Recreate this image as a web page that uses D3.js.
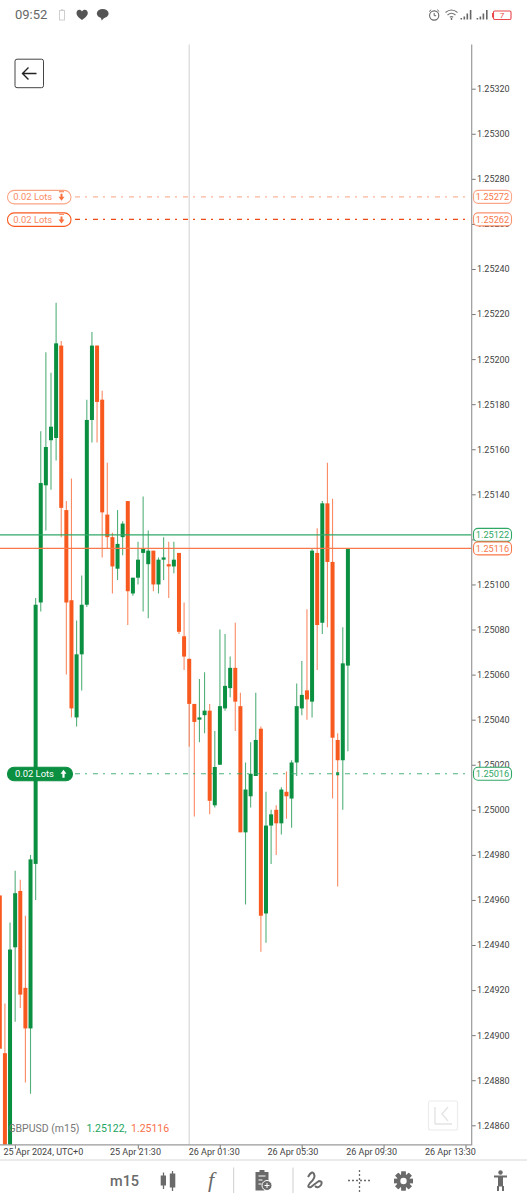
<!DOCTYPE html>
<html><head><meta charset="utf-8">
<script src="https://cdn.jsdelivr.net/npm/d3@7"></script>
<style>html,body{margin:0;padding:0;background:#fff}svg{display:block}text{font-family:Roboto,sans-serif}</style>
</head><body><svg id="c" width="527" height="1200"></svg>
<script>
const open_=[1.24962,1.24892,1.24840,1.24939,1.24964,1.24921,1.24903,1.24976,1.25092,1.25144,1.25164,1.25165,1.25206,1.25133,1.25093,1.25041,1.25069,1.25091,1.25173,1.25206,1.25182,1.25131,1.25121,1.25107,1.25121,1.25137,1.25096,1.25103,1.25114,1.25109,1.25115,1.25100,1.25111,1.25109,1.25108,1.25114,1.25077,1.25067,1.25047,1.25040,1.25042,1.25044,1.25002,1.25020,1.25045,1.25054,1.25063,1.25046,1.24990,1.25006,1.25015,1.25036,1.24954,1.24993,1.25000,1.24994,1.25008,1.25005,1.25021,1.25045,1.25053,1.25048,1.25114,1.25083,1.25136,1.25110,1.25031,1.25022,1.25064];
const close_=[1.24894,1.24836,1.24938,1.24963,1.24918,1.24903,1.24978,1.25091,1.25145,1.25161,1.25170,1.25207,1.25134,1.25092,1.25045,1.25069,1.25091,1.25173,1.25206,1.25181,1.25132,1.25121,1.25108,1.25118,1.25127,1.25097,1.25103,1.25111,1.25116,1.25115,1.25100,1.25111,1.25112,1.25108,1.25111,1.25079,1.25068,1.25047,1.25039,1.25041,1.25044,1.25004,1.25019,1.25046,1.25055,1.25063,1.25048,1.24990,1.25009,1.25016,1.25031,1.24953,1.24993,1.24998,1.24994,1.25009,1.25006,1.25021,1.25046,1.25051,1.25049,1.25115,1.25082,1.25136,1.25110,1.25032,1.25022,1.25065,1.25116];
const high_=[1.24962,1.24914,1.24950,1.24973,1.24969,1.24953,1.24980,1.25094,1.25168,1.25203,1.25194,1.25225,1.25208,1.25137,1.25147,1.25084,1.25104,1.25182,1.25212,1.25206,1.25186,1.25154,1.25123,1.25133,1.25128,1.25137,1.25103,1.25119,1.25139,1.25124,1.25115,1.25112,1.25121,1.25119,1.25119,1.25114,1.25092,1.25067,1.25047,1.25058,1.25061,1.25047,1.25035,1.25080,1.25078,1.25068,1.25083,1.25052,1.25021,1.25030,1.25052,1.25037,1.25008,1.25000,1.25002,1.25010,1.25017,1.25022,1.25056,1.25066,1.25089,1.25116,1.25125,1.25137,1.25154,1.25138,1.25034,1.25081,1.25116];
const low_=[1.24894,1.24830,1.24835,1.24906,1.24912,1.24879,1.24874,1.24960,1.25088,1.25124,1.25142,1.25155,1.25121,1.25060,1.25041,1.25037,1.25053,1.25090,1.25163,1.25163,1.25112,1.25116,1.25096,1.25102,1.25113,1.25082,1.25095,1.25100,1.25088,1.25085,1.25097,1.25096,1.25102,1.25094,1.25105,1.25078,1.25062,1.25028,1.24997,1.25030,1.25034,1.24998,1.25001,1.25020,1.25044,1.25050,1.25035,1.24990,1.24958,1.25001,1.25015,1.24937,1.24941,1.24976,1.24980,1.24989,1.24996,1.24992,1.25015,1.25042,1.25040,1.25041,1.25062,1.25078,1.25081,1.25005,1.24966,1.25000,1.25026];
const priceTicks=d3.range(0,24).map(k=>+(1.2532-k*0.0002).toFixed(5));
const timeTicks=["2024-04-25T15:30Z","2024-04-25T21:30Z","2024-04-26T01:30Z","2024-04-26T05:30Z","2024-04-26T09:30Z","2024-04-26T13:30Z"];
const timeLabels=["25 Apr 21:30","26 Apr 01:30","26 Apr 05:30","26 Apr 09:30","26 Apr 13:30"];
const dateLabel="25 Apr 2024, UTC+0";
const bid=1.25116, ask=1.25122;
const orders=[{price:1.25272,lots:"0.02 Lots",side:"sell",op:.55},{price:1.25262,lots:"0.02 Lots",side:"sell",op:1},{price:1.25016,lots:"0.02 Lots",side:"buy",op:.85}];
const symbol="GBPUSD (m15)";

const GREEN="#0b8f41",RED="#f8591f",GREENL="#2fa766",REDL="#f9784b",GREY="#6a6a6a";
const svg=d3.select("#c");
const R={l:0,r:471.7,t:44.4,b:1144.8};
const t0=Date.UTC(2024,3,25,14,45), bar=15*60000;
const x=d3.scaleTime().domain([t0,t0+68*bar]).range([-0.2,347.9]);
const y=d3.scaleLinear().domain([1.2532,1.2486]).range([88.7,1125.3]);
const tickX=d3.scaleTime().domain([new Date(timeTicks[1]),new Date(timeTicks[5])]).range([137.8,465.5]);
const labelX=d3.scaleLinear().domain([0,4]).range([135.5,450.4]);

svg.append("defs").append("clipPath").attr("id","plot").append("rect").attr("x",0).attr("y",R.t).attr("width",R.r).attr("height",R.b-R.t);

// session line
svg.append("line").attr("x1",189.2).attr("x2",189.2).attr("y1",R.t).attr("y2",R.b).attr("stroke","#d8d8d8").attr("stroke-width",1.2);

// candles
const plot=svg.append("g").attr("clip-path","url(#plot)");
const cs=open_.map((o,i)=>({t:t0+i*bar,o,c:close_[i],h:high_[i],l:low_[i]}));
const g=plot.selectAll("g").data(cs).join("g");
g.append("line").attr("x1",d=>x(d.t)).attr("x2",d=>x(d.t)).attr("y1",d=>y(d.h)).attr("y2",d=>y(d.l))
 .attr("stroke",d=>d.c>=d.o?GREEN:RED).attr("stroke-width",1.1).attr("stroke-opacity",.7);
g.append("rect").attr("x",d=>x(d.t)-2).attr("width",4)
 .attr("y",d=>y(Math.max(d.o,d.c))).attr("height",d=>Math.max(1.5,Math.abs(y(d.o)-y(d.c))))
 .attr("fill",d=>d.c>=d.o?GREEN:RED);

// marker on open position candle
plot.append("rect").attr("x",x(t0+66*bar)-1.5).attr("y",y(orders[2].price)-1.5).attr("width",3).attr("height",3).attr("fill",GREEN);

// bid / ask
[[ask,GREENL],[bid,REDL]].forEach(([p,col])=>{
  svg.append("line").attr("x1",0).attr("x2",R.r).attr("y1",y(p)).attr("y2",y(p)).attr("stroke",col).attr("stroke-width",1.1);
});

// axes
const ay=svg.append("g").attr("transform",`translate(${R.r},0)`)
 .call(d3.axisRight(y).tickValues(priceTicks).tickFormat(d3.format(".5f")).tickSize(4).tickPadding(1).tickSizeOuter(0));
ay.select(".domain").remove();
ay.selectAll("line").attr("stroke","#777");
ay.selectAll("text").attr("font-size",9).attr("fill","#444").attr("font-family","Roboto").attr("x",5.2);
const ax=svg.append("g").attr("transform",`translate(0,${R.b})`)
 .call(d3.axisBottom(tickX).tickValues(timeTicks.map(d=>new Date(d))).tickFormat("").tickSize(4).tickSizeOuter(0));
ax.select(".domain").remove();
ax.selectAll("line").attr("stroke","#777");
svg.append("path").attr("d",`M${R.r},${R.t}V${R.b}H0`).attr("fill","none").attr("stroke","#9a9a9a").attr("stroke-width",1.2);
svg.append("line").attr("x1",0).attr("x2",527).attr("y1",1160).attr("y2",1160).attr("stroke","#d6d6d6");
svg.selectAll("text.tl").data(timeLabels).join("text").attr("class","tl")
 .attr("x",(d,i)=>labelX(i)).attr("y",1155.3).attr("text-anchor","middle").attr("font-size",9).attr("fill","#444").text(d=>d);
svg.append("text").attr("x",3.4).attr("y",1155.3).attr("font-size",9).attr("fill","#444").text(dateLabel);

// orders
orders.forEach(o=>{
  const buy=o.side==="buy", col=buy?GREENL:(o.op===1?"#ee4a18":REDL), yy=y(o.price);
  const gg=svg.append("g").attr("opacity",o.op);
  gg.append("line").attr("x1",75).attr("x2",R.r-1).attr("y1",yy).attr("y2",yy).attr("stroke",col).attr("stroke-width",1.1).attr("stroke-dasharray","5 5 2 6");
  const pill=svg.append("g").attr("transform",`translate(0,${yy})`);
  pill.append("rect").attr("x",7.5).attr("y",-6.5).attr("width",buy?65:63.5).attr("height",13.5).attr("rx",6.7)
    .attr("fill",buy?GREEN:"#fff").attr("stroke",buy?GREEN:RED).attr("stroke-opacity",buy?1:o.op).attr("stroke-width",1.1);
  pill.append("text").attr("x",buy?15:13.3).attr("y",3.6).attr("font-size",9.4).attr("fill",buy?"#fff":"#fa8a63").text(o.lots);
  pill.append("path").attr("d",buy?"M63.5,-4L66.5,0H64.6V4H62.4V0H60.5Z":"M59,-5.5H64V-4.6H59ZM60.5,-3H62.5V0H64.5L61.5,4L58.5,0H60.5Z").attr("fill",buy?"#fff":RED).attr("opacity",buy?1:.85);
});

// price pills
[[1.25272,REDL,.65],[1.25262,REDL,.8],[ask,GREENL,1],[bid,REDL,1],[1.25016,GREENL,1]].forEach(([p,col,op])=>{
  const yy=y(p),pg=svg.append("g").attr("transform",`translate(0,${yy})`);
  pg.append("rect").attr("x",473.5).attr("y",-6.5).attr("width",38).attr("height",13).attr("rx",4.5).attr("fill","#fff").attr("stroke",col).attr("stroke-opacity",op).attr("stroke-width",1.1);
  pg.append("text").attr("x",492.5).attr("y",3.3).attr("text-anchor","middle").attr("font-size",9.2).attr("fill",col).text(d3.format(".5f")(p));
});

// legend
const lg=svg.append("text").attr("x",8.4).attr("y",1131.5).attr("font-size",10.5);
lg.append("tspan").attr("fill","#777").text(symbol);
lg.append("tspan").attr("x",86.4).attr("fill","#22a561").text(d3.format(".5f")(ask)+",");
lg.append("tspan").attr("x",131).attr("fill","#f8704a").text(d3.format(".5f")(bid));

// back-to-end button
const be=svg.append("g").attr("fill","none").attr("stroke","#ececec");
be.append("rect").attr("x",428.5).attr("y",1101).attr("width",29).attr("height",29).attr("rx",2).attr("stroke-width",1.2);
be.append("path").attr("d","M435,1107V1124M448,1107L442,1114L448,1121M435,1124H452").attr("stroke-width",1.4).attr("stroke","#e4e4e4");

// back button
const bk=svg.append("g");
bk.append("rect").attr("x",15).attr("y",59.2).attr("width",28.5).attr("height",28.5).attr("rx",2).attr("fill","#fff").attr("stroke","#444");
bk.append("path").attr("d","M36.5,73.5H22.5M28.5,67.5L22.5,73.5L28.5,79.5").attr("fill","none").attr("stroke","#222").attr("stroke-width",1.4);

// status bar
const s=svg.append("g");
s.append("text").attr("x",15).attr("y",19).attr("font-size",13).attr("fill","#666").text("09:52");
s.append("rect").attr("x",59.5).attr("y",10.5).attr("width",5).attr("height",9.5).attr("fill","none").attr("stroke","#cfcfcf");
s.append("rect").attr("x",60.8).attr("y",9.3).attr("width",2.5).attr("height",1.2).attr("fill","#cfcfcf");
s.append("path").attr("d","M82,20C77,16.5 76.5,14.5 76.5,13C76.5,9.5 80.5,8.5 82,11.5C83.5,8.5 87.8,9.5 87.8,13C87.8,14.5 87,16.5 82,20Z").attr("fill","#555");
s.append("ellipse").attr("cx",102.7).attr("cy",13.5).attr("rx",5.9).attr("ry",4.6).attr("fill","#555");
s.append("path").attr("d","M100.7,17L101.7,20.5L105,17Z").attr("fill","#555");
s.append("circle").attr("cx",434.2).attr("cy",15.5).attr("r",4.6).attr("fill","none").attr("stroke","#666").attr("stroke-width",1.1);
s.append("path").attr("d","M434.2,13V15.7H436.2M429.2,11.5L431.2,9.7M439.2,11.5L437.2,9.7").attr("fill","none").attr("stroke","#666");
s.append("path").attr("d","M445.5,12.5Q451.5,7.5 457.5,12.5M447.5,15Q451.5,11.5 455.5,15M449.8,17.2Q451.5,16 453.2,17.2").attr("fill","none").attr("stroke","#777").attr("stroke-width",1.1);
s.append("circle").attr("cx",451.5).attr("cy",19).attr("r",.9).attr("fill","#666");
[460.5,463.5,466.5,469.8,476.6,479.6,482.6,486].forEach((xx,i)=>{
  const h=[1.5,3,6,9.5,1.5,3,6,9.5][i];
  s.append("rect").attr("x",xx).attr("y",19.5-h).attr("width",1.6).attr("height",h).attr("fill","#666");
});
s.append("rect").attr("x",493.5).attr("y",11).attr("width",17.5).attr("height",8.5).attr("rx",1.2).attr("fill","none").attr("stroke","#e8484a").attr("stroke-width",1.1);
s.append("rect").attr("x",492).attr("y",13).attr("width",1).attr("height",4.5).attr("fill","#e8484a");
s.append("text").attr("x",502).attr("y",18).attr("text-anchor","middle").attr("font-size",8).attr("fill","#e8484a").text("7");

// toolbar
const tb=svg.append("g");
tb.append("text").attr("x",110).attr("y",1186).attr("font-size",14.5).attr("font-weight",500).attr("fill",GREY).text("m15");
tb.append("path").attr("d","M163.5,1172.5V1189M172.5,1171V1191").attr("stroke",GREY).attr("stroke-width",1.3);
tb.append("rect").attr("x",160.7).attr("y",1175.5).attr("width",5.3).attr("height",10).attr("fill",GREY);
tb.append("rect").attr("x",169.8).attr("y",1173.5).attr("width",5.5).attr("height",14).attr("fill",GREY);
tb.append("text").attr("x",211).attr("y",1187).attr("text-anchor","middle").attr("font-size",22).attr("font-style","italic").attr("fill",GREY).style("font-family","'Liberation Serif'").text("f");
[233.6,293].forEach(xx=>tb.append("line").attr("x1",xx).attr("x2",xx).attr("y1",1167.5).attr("y2",1193).attr("stroke","#d6d6d6").attr("stroke-width",1.2));
tb.append("path").attr("d","M255.5,1172H259.5V1170H264.5V1172H268.5V1181H264.5V1190.5H255.5Z").attr("fill",GREY);
tb.append("path").attr("d","M258.5,1176H265.5M258.5,1180H262.5M258.5,1184H261.5").attr("stroke","#fff").attr("stroke-width",1.2);
tb.append("circle").attr("cx",267).attr("cy",1185.5).attr("r",5).attr("fill",GREY).attr("stroke","#fff").attr("stroke-width",1);
tb.append("path").attr("d","M264.5,1185.5H269.5M267,1183V1188").attr("stroke","#fff").attr("stroke-width",1);
tb.append("path").attr("d","M308,1177Q312,1170 314,1174Q316,1178 310,1183Q306,1188 311,1187Q316,1183 319,1181Q323,1181 321,1185Q318,1189 315,1186").attr("fill","none").attr("stroke",GREY).attr("stroke-width",2);
tb.append("path").attr("d","M359.5,1170V1192M348,1180.5H372").attr("stroke",GREY).attr("stroke-width",1.3).attr("stroke-dasharray","2 2");
const gg=tb.append("g").attr("transform","translate(403.5,1181)");
d3.range(8).forEach(k=>gg.append("rect").attr("x",-2.2).attr("y",-9.5).attr("width",4.4).attr("height",19).attr("fill",GREY).attr("transform",`rotate(${k*45})`));
gg.append("circle").attr("r",6.8).attr("fill",GREY);
gg.append("circle").attr("r",3.2).attr("fill","#fff");
const p=tb.append("g").attr("fill",GREY).attr("transform","translate(4,0)");
p.append("circle").attr("cx",496.5).attr("cy",1172.5).attr("r",2.2);
p.append("path").attr("d","M490,1175.5H503V1177.5H499V1186H500V1191H498V1186.5H495V1191H493V1186H494V1177.5H490Z");
</script></body></html>
